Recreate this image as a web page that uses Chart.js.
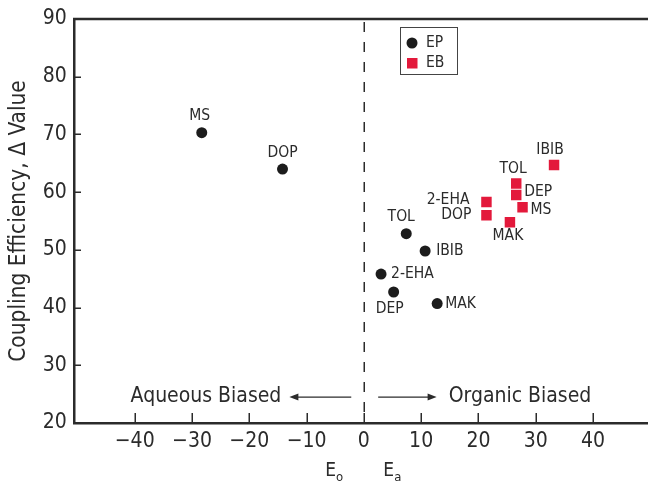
<!DOCTYPE html>
<html>
<head>
<meta charset="utf-8">
<script src="https://cdn.jsdelivr.net/npm/chart.js@4.4.0/dist/chart.umd.min.js"></script>
<style>
  html, body { margin: 0; background: #fff; overflow: hidden; width: 648px; height: 484px; }
  canvas { display: block; }
</style>
</head>
<body>
<canvas id="myChart" width="672" height="484"></canvas>
<script>
// EP series (black circles)
var epNames = ['MS', 'DOP', 'TOL', 'IBIB', '2-EHA', 'DEP', 'MAK'];
var epX = [-28.3, -14.2, 7.4, 10.7, 3.0, 5.2, 12.8];
var epY = [70.3, 64.0, 52.8, 49.8, 45.8, 42.7, 40.7];

// EB series (red squares)
var ebNames = ['IBIB', 'TOL', 'DEP', 'MS', '2-EHA', 'DOP', 'MAK'];
var ebX = [33.2, 26.6, 26.6, 27.7, 21.4, 21.4, 25.5];
var ebY = [64.7, 61.5, 59.5, 57.4, 58.3, 56.0, 54.8];

var seriesNames = ['EP', 'EB'];
var xTicks = [-40, -30, -20, -10, 0, 10, 20, 30, 40];
var yTicks = [20, 30, 40, 50, 60, 70, 80, 90];

// where each point label sits: [align, dx, dy] in pixels from the point
var epLabelPos = [['center', -2, -17], ['center', 0, -16], ['center', -5, -17], ['left', 11, 0],
                  ['left', 10, 0], ['center', -4, 17], ['left', 8, 0]];
var ebLabelPos = [['center', -4, -15], ['center', -3, -15], ['left', 8, -3], ['left', 8, 3],
                  ['right', -17, -2], ['right', -15, 0], ['center', -2, 14]];

var FONT = "'DejaVu Sans Condensed', 'Liberation Sans Narrow', sans-serif";
var INK = '#2b2b2b';
var EP_COLOR = '#1c1c1c';
var EB_COLOR = '#e3193b';

function toPoints(xs, ys) {
    return xs.map(function(x, i) { return { x: x, y: ys[i] }; });
}

function arrow(ctx, x1, x2, y) {
    var dir = x2 > x1 ? 1 : -1;
    ctx.beginPath();
    ctx.moveTo(x1, y);
    ctx.lineTo(x2 - dir * 6, y);
    ctx.stroke();
    ctx.beginPath();
    ctx.moveTo(x2, y);
    ctx.lineTo(x2 - dir * 9, y - 3.5);
    ctx.lineTo(x2 - dir * 9, y + 3.5);
    ctx.closePath();
    ctx.fill();
}

// extra drawing: frame top, inward ticks, zero line, arrows, E labels, point labels, legend
var extras = {
    id: 'extras',
    afterDatasetsDraw: function(chart) {
        var ctx = chart.ctx;
        var area = chart.chartArea;
        var xs = chart.scales.x;
        var ys = chart.scales.y;
        ctx.save();

        // top border of the frame
        ctx.strokeStyle = INK;
        ctx.lineWidth = 2.5;
        ctx.beginPath();
        ctx.moveTo(area.left - 1, area.top);
        ctx.lineTo(area.right, area.top);
        ctx.stroke();

        // tick marks pointing into the plot
        ctx.lineWidth = 1.5;
        ctx.beginPath();
        xTicks.forEach(function(v) {
            var px = Math.round(xs.getPixelForValue(v)) + 0.25;
            ctx.moveTo(px, area.bottom);
            ctx.lineTo(px, area.bottom - 10);
        });
        yTicks.forEach(function(v) {
            var py = Math.round(ys.getPixelForValue(v)) + 0.25;
            ctx.moveTo(area.left, py);
            ctx.lineTo(area.left + 7, py);
        });
        ctx.stroke();

        // dashed line at zero
        var x0 = Math.round(xs.getPixelForValue(0)) + 0.25;
        ctx.setLineDash([10, 10]);
        ctx.beginPath();
        ctx.moveTo(x0, area.top + 3);
        ctx.lineTo(x0, area.bottom);
        ctx.stroke();
        ctx.setLineDash([]);

        // biased arrows
        var ay = ys.getPixelForValue(24.5);
        ctx.fillStyle = INK;
        ctx.lineWidth = 1.3;
        arrow(ctx, xs.getPixelForValue(-2.2), xs.getPixelForValue(-13.0), ay);
        arrow(ctx, xs.getPixelForValue(2.5), xs.getPixelForValue(12.7), ay);
        ctx.font = '21px ' + FONT;
        ctx.textBaseline = 'middle';
        ctx.textAlign = 'right';
        ctx.fillText('Aqueous Biased', xs.getPixelForValue(-14.4), ay);
        ctx.textAlign = 'left';
        ctx.fillText('Organic Biased', xs.getPixelForValue(14.8), ay);

        // E_o and E_a under the axis
        ctx.textBaseline = 'alphabetic';
        [['E', 'o', -6.75], ['E', 'a', 3.4]].forEach(function(e) {
            var ex = xs.getPixelForValue(e[2]);
            ctx.font = '19px ' + FONT;
            ctx.fillText(e[0], ex, area.bottom + 53);
            var w = ctx.measureText(e[0]).width;
            ctx.font = '13px ' + FONT;
            ctx.fillText(e[1], ex + w, area.bottom + 58);
        });

        // point labels
        ctx.font = '15.5px ' + FONT;
        ctx.textBaseline = 'middle';
        [[0, epNames, epLabelPos], [1, ebNames, ebLabelPos]].forEach(function(s) {
            var meta = chart.getDatasetMeta(s[0]);
            meta.data.forEach(function(pt, i) {
                var p = s[2][i];
                ctx.textAlign = p[0];
                ctx.fillText(s[1][i], pt.x + p[1], pt.y + p[2]);
            });
        });

        // legend box
        var lx = area.left + 326, ly = area.top + 8;
        ctx.strokeStyle = '#444';
        ctx.lineWidth = 1;
        ctx.strokeRect(lx + 0.5, ly + 0.5, 57, 47);
        ctx.textAlign = 'left';
        ctx.fillStyle = EP_COLOR;
        ctx.beginPath();
        ctx.arc(lx + 12, ly + 16, 5.5, 0, Math.PI * 2);
        ctx.fill();
        ctx.fillStyle = EB_COLOR;
        ctx.fillRect(lx + 7, ly + 31, 10.5, 10.5);
        ctx.fillStyle = INK;
        ctx.fillText(seriesNames[0], lx + 26, ly + 16);
        ctx.fillText(seriesNames[1], lx + 26, ly + 36);

        ctx.restore();
    }
};

var ctx = document.getElementById('myChart').getContext('2d');

var myChart = new Chart(ctx, {
    type: 'scatter',
    data: {
        datasets: [{
            label: seriesNames[0],
            data: toPoints(epX, epY),
            pointStyle: 'circle',
            pointRadius: 5.5,
            backgroundColor: EP_COLOR,
            borderWidth: 0
        }, {
            label: seriesNames[1],
            data: toPoints(ebX, ebY),
            pointStyle: 'rect',
            pointRadius: 7.4,
            backgroundColor: EB_COLOR,
            borderWidth: 0
        }]
    },
    options: {
        responsive: false,
        animation: false,
        events: [],
        layout: { padding: { top: 19, right: 0, left: 0, bottom: 0 } },
        plugins: {
            legend: { display: false },
            tooltip: { enabled: false }
        },
        scales: {
            x: {
                type: 'linear',
                min: -50.6,
                max: 52.5,
                afterBuildTicks: function(scale) {
                    scale.ticks = xTicks.map(function(v) { return { value: v }; });
                },
                afterFit: function(scale) { scale.height = 61; },
                grid: { drawOnChartArea: false, drawTicks: false },
                border: { color: INK, width: 2.5 },
                ticks: {
                    color: INK,
                    padding: 5.7,
                    maxRotation: 0,
                    font: { family: FONT, size: 21 },
                    callback: function(v) { return v < 0 ? '\u2212' + Math.abs(v) : String(v); }
                }
            },
            y: {
                type: 'linear',
                min: 20,
                max: 90,
                afterBuildTicks: function(scale) {
                    scale.ticks = yTicks.map(function(v) { return { value: v }; });
                },
                afterFit: function(scale) { scale.width = 74; },
                grid: { drawOnChartArea: false, drawTicks: false },
                border: { color: INK, width: 2.5 },
                ticks: {
                    color: INK,
                    padding: 7.3,
                    font: { family: FONT, size: 21, lineHeight: 1 }
                },
                title: {
                    display: true,
                    text: 'Coupling Efficiency, \u0394 Value',
                    color: INK,
                    font: { family: FONT, size: 22.5 },
                    padding: { top: 6 }
                }
            }
        }
    },
    plugins: [extras]
});
</script>
</body>
</html>
